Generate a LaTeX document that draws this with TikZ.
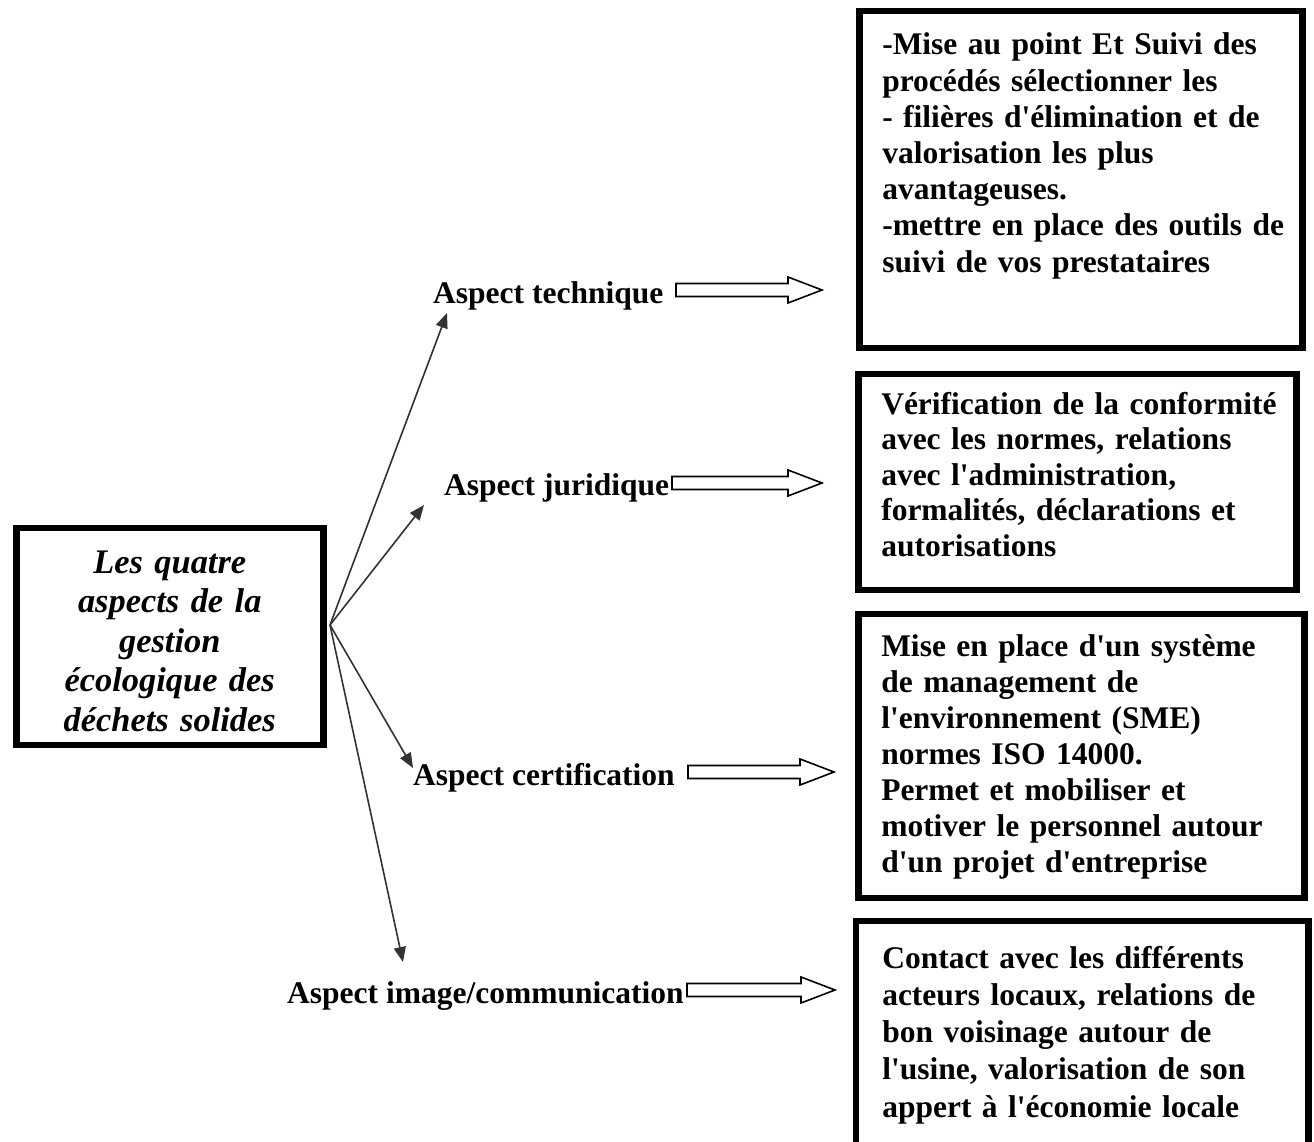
\documentclass[tikz,border=0pt]{standalone}
\usepackage{fontspec}
\setmainfont{Liberation Serif}
\usetikzlibrary{arrows.meta,calc}

\newcommand\apos{\textquotesingle}
\definecolor{fanc}{HTML}{333333}

\tikzset{
  % framed text boxes on the right, text aligned left with a fixed inset
  infobox/.style={rectangle, draw=black, line width=6.5pt, inner sep=0pt,
    align=left, anchor=base west,
    font=\fontsize{31.5}{36.2}\selectfont\bfseries,
    execute at begin node={\leftskip=23pt\relax}},
  % central title box
  titlebox/.style={rectangle, draw=black, line width=6.5pt, inner sep=0pt,
    align=center, anchor=base west,
    font=\fontsize{34.4}{39.5}\selectfont\bfseries\itshape},
  aspect/.style={inner sep=0pt, anchor=base west,
    font=\fontsize{31.5}{36}\selectfont\bfseries},
  fan/.style={draw=fanc, line width=1.6pt, -{Triangle[length=15pt,width=12pt]}},
  hollow/.style={draw=black, line width=1.6pt, fill=white, line join=miter},
  frameline/.style={draw=black, line width=6.5pt}
}

% outlined block arrow from a tail coordinate to a tip coordinate
\newcommand\blockarrow[2]{%
  \draw[hollow] let \p1=(#1), \p2=(#2) in
    (\x1,\y1+6.5pt) -- (\x2-34pt,\y1+6.5pt) -- (\x2-34pt,\y1+13pt)
    -- (\x2,\y1) -- (\x2-34pt,\y1-13pt) -- (\x2-34pt,\y1-6.5pt)
    -- (\x1,\y1-6.5pt) -- cycle;}

\begin{document}
\begin{tikzpicture}[x=1pt,y=-1pt]
  \useasboundingbox (0,0) rectangle (1314,1142);
  \fill[white] (0,0) rectangle (1314,1142);

  % central box
  \node[titlebox, text width=307pt, text height=45pt, text depth=172pt] (title) at (13,573)
    {Les quatre\\aspects de la\\gestion\\écologique des\\déchets solides};

  % aspect labels
  \node[aspect] (tech) at (433,303) {Aspect technique};
  \node[aspect] (jur)  at (444,495) {Aspect juridique};
  \node[aspect] (cert) at (413,785) {Aspect certification};
  \node[aspect] (comm) at (287,1003) {Aspect image/communication};

  % description boxes
  \node[infobox, text width=443pt, text height=44pt, text depth=293pt] (box1) at (856,55)
    {-Mise au point Et Suivi des\\procédés sélectionner les\\- filières d\apos élimination et de\\valorisation les plus\\avantageuses.\\-mettre en place des outils de\\suivi de vos prestataires};
  \node[infobox, text width=438pt, text height=40pt, text depth=176pt,
        font=\fontsize{31.5}{35.5}\selectfont\bfseries] (box2) at (855,414)
    {Vérification de la conformité\\avec les normes, relations\\avec l\apos administration,\\formalités, déclarations et\\autorisations};
  \node[infobox, text width=446pt, text height=42pt, text depth=242pt,
        font=\fontsize{31.5}{36}\selectfont\bfseries] (box3) at (855,656)
    {Mise en place d\apos un système\\de management de\\l\apos environnement (SME)\\normes ISO 14000.\\Permet et mobiliser et\\motiver le personnel autour\\d\apos un projet d\apos entreprise};
  \node[infobox, draw=none, text width=446pt, text height=44pt, text depth=174pt,
        font=\fontsize{31.5}{37.3}\selectfont\bfseries] (box4) at (856,968)
    {Contact avec les différents\\acteurs locaux, relations de\\bon voisinage autour de\\l\apos usine, valorisation de son\\appert à l\apos économie locale};
  % the last frame runs off the bottom edge
  \draw[frameline] (box4.south west) -- (box4.north west) -- (box4.north east) -- (box4.south east);

  % fan of arrows from the central box
  \coordinate (hub) at (330,625);
  \coordinate (techin) at (447,313);
  \coordinate (jurin)  at (424,505);
  \coordinate (certin) at (413,768);
  \coordinate (commin) at (403,962);
  \draw[fan] (hub) -- (techin);
  \draw[fan] (hub) -- (jurin);
  \draw[fan] (hub) -- (certin);
  \draw[fan] (hub) -- (commin);

  % block arrows towards the boxes
  \coordinate (techout) at (676,290);  \coordinate (box1in) at (822,290);
  \coordinate (jurout)  at (672,483);  \coordinate (box2in) at (822,483);
  \coordinate (certout) at (688,772);  \coordinate (box3in) at (834,772);
  \coordinate (commout) at (687,990);  \coordinate (box4in) at (835,990);
  \blockarrow{techout}{box1in}
  \blockarrow{jurout}{box2in}
  \blockarrow{certout}{box3in}
  \blockarrow{commout}{box4in}
\end{tikzpicture}
\end{document}
